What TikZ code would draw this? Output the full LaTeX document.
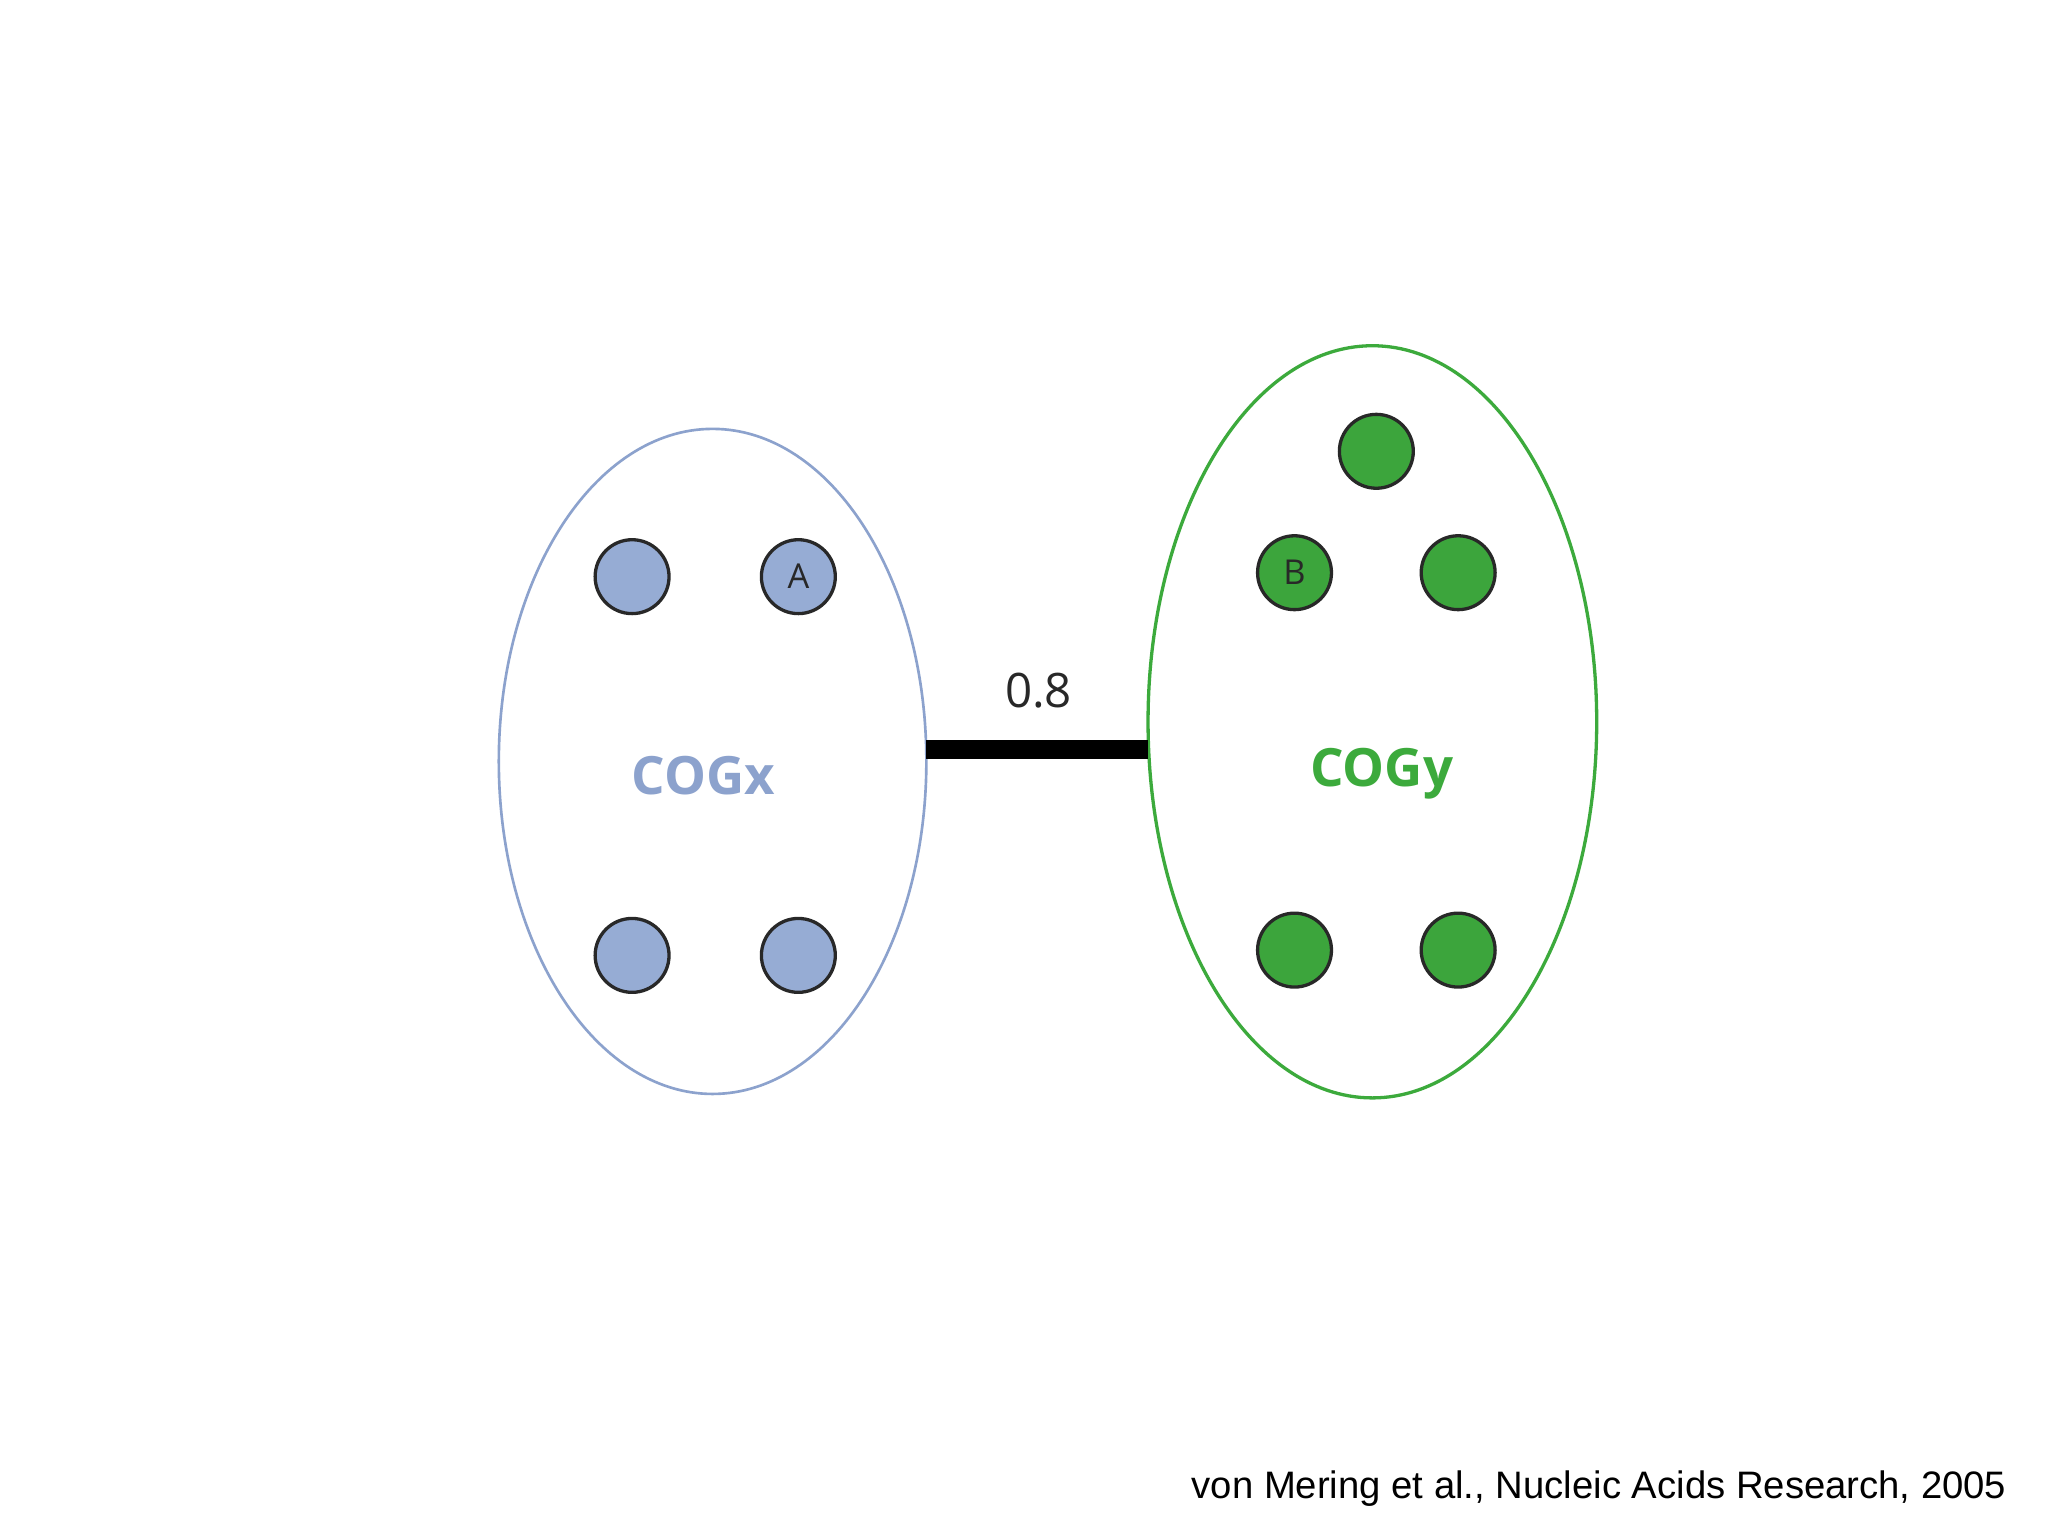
\documentclass[tikz,border=0pt]{standalone}
\usepackage{fontspec}
\usetikzlibrary{shapes.geometric}
\setmainfont{Open Sans}
\newfontfamily\citefont{Liberation Sans}
\definecolor{bl}{RGB}{140,162,205}
\definecolor{blf}{RGB}{150,172,212}
\definecolor{gr}{RGB}{60,170,60}
\definecolor{grf}{RGB}{60,165,60}
\definecolor{dk}{RGB}{40,40,40}
\tikzset{bdot/.style={circle,draw=dk,line width=2.5pt,fill=blf,minimum size=56pt,inner sep=0pt,font=\fontsize{26}{26}\selectfont,text=dk},
gdot/.style={circle,draw=dk,line width=2.5pt,fill=grf,minimum size=56pt,inner sep=0pt,font=\fontsize{26}{26}\selectfont,text=dk}}
\begin{document}
\begin{tikzpicture}[x=1pt,y=-1pt]
\useasboundingbox[fill=white] (0,0) rectangle (1552,1164);
\node[ellipse,draw=bl,line width=2pt,minimum width=324pt,minimum height=504pt,inner sep=0pt] (L) at (540,577) {};
\node[ellipse,draw=gr,line width=2.5pt,minimum width=340pt,minimum height=570pt,inner sep=0pt] (R) at (1040,547) {};
\node[bdot] (b1) at (479,437) {};
\node[bdot] (b2) at (605,437) {A};
\node[bdot] (b3) at (479,724) {};
\node[bdot] (b4) at (605,724) {};
\node[gdot] (g1) at (1043,342) {};
\node[gdot] (g2) at (981,434) {B};
\node[gdot] (g3) at (1105,434) {};
\node[gdot] (g4) at (981,720) {};
\node[gdot] (g5) at (1105,720) {};
\coordinate (la) at (702,568);
\coordinate (ra) at (870,568);
\draw[line width=14pt] (la) -- (ra);
\node[font=\fontsize{36}{36}\selectfont,text=dk] (w) at (787,523) {0.8};
\node[font=\fontsize{40}{40}\selectfont\bfseries,text=bl] (cx) at (533,588) {COGx};
\node[font=\fontsize{40}{40}\selectfont\bfseries,text=gr] (cy) at (1047,586) {COGy};
\node[font=\citefont\fontsize{29}{29}\selectfont,anchor=east] (c) at (1524,1128) {von Mering et al., Nucleic Acids Research, 2005};
\end{tikzpicture}
\end{document}
